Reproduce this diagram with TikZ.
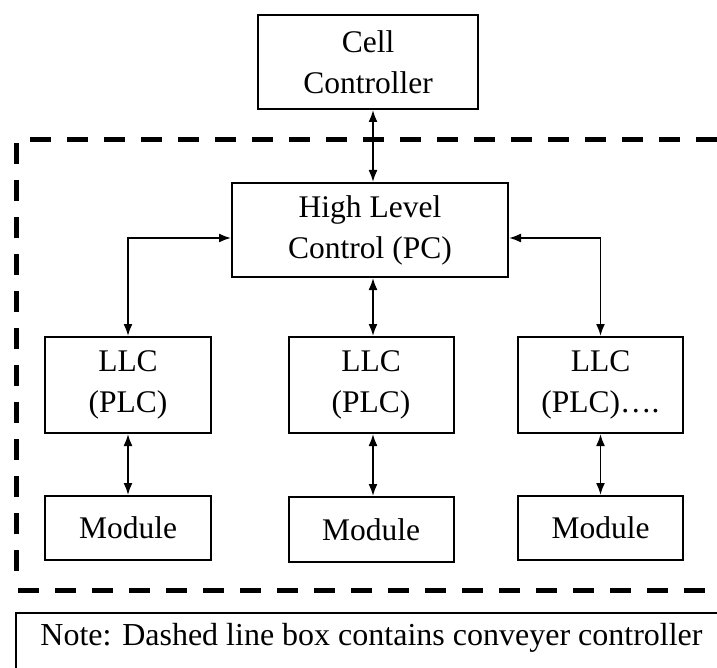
\documentclass[tikz,border=0pt]{standalone}
\usepackage{fontspec}
\setmainfont{Liberation Serif}
\usetikzlibrary{arrows.meta}

\begin{document}
\begin{tikzpicture}[x=1pt, y=-1pt,
  box/.style={draw, line width=2pt, inner sep=0pt, align=center,
    font=\fontsize{31.5}{41}\selectfont},
  link/.style={line width=1.8pt,
    {Latex[length=12pt,width=9pt]}-{Latex[length=12pt,width=9pt]}},
  fence/.style={line width=5pt, dash pattern=on 21pt off 16pt},
  notefont/.style={font=\fontsize{32}{41}\selectfont}]
\useasboundingbox (0,0) rectangle (717,668);
\clip (0,0) rectangle (717,668);

% guide coordinates for the connectors
\coordinate (spine) at (373,0);
\coordinate (tap) at (0,238);

% controller boxes
\node[box, minimum width=220pt, minimum height=94pt] (cell) at (368,62) {Cell\\Controller};
\node[box, minimum width=276pt, minimum height=94pt] (hlc) at (370,230) {High Level\\Control (PC)};

\node[box, minimum width=166pt, minimum height=96pt] (llc1) at (128,385) {LLC\\(PLC)};
\node[box, minimum width=165pt, minimum height=96pt] (llc2) at (371,385) {LLC\\(PLC)};
\node[box, minimum width=165pt, minimum height=96pt] (llc3) at (600.5,385) {LLC\\(PLC)\dots.};

\node[box, minimum width=166pt, minimum height=64pt] (mod1) at (128,528) {Module};
\node[box, minimum width=165pt, minimum height=65pt] (mod2) at (371,529.5) {Module};
\node[box, minimum width=165pt, minimum height=64pt] (mod3) at (600.5,528) {Module};

% connectors
\draw[link] (cell.south -| spine) -- (hlc.north -| spine);
\draw[link] (hlc.west |- tap) -| (llc1.north);
\draw[link] (hlc.east |- tap) -| (llc3.north);
\draw[link] (hlc.south -| spine) -- (llc2.north -| spine);
\draw[link] (llc1.south) -- (mod1.north);
\draw[link] (llc2.south -| spine) -- (mod2.north -| spine);
\draw[link] (llc3.south) -- (mod3.north);

% dashed boundary of the conveyer controller
\draw[fence] (30,140) -- (717,140);
\draw[fence] (16,143) -- (16,573);
\draw[fence] (18,590) -- (717,590);

% note
\node[draw, line width=2pt, anchor=north west, minimum width=713pt, minimum height=70pt] (notebox) at (15,612) {};
\node[notefont] (notetext) at (371.5,638) {Note: Dashed line box contains conveyer controller};
\end{tikzpicture}
\end{document}
